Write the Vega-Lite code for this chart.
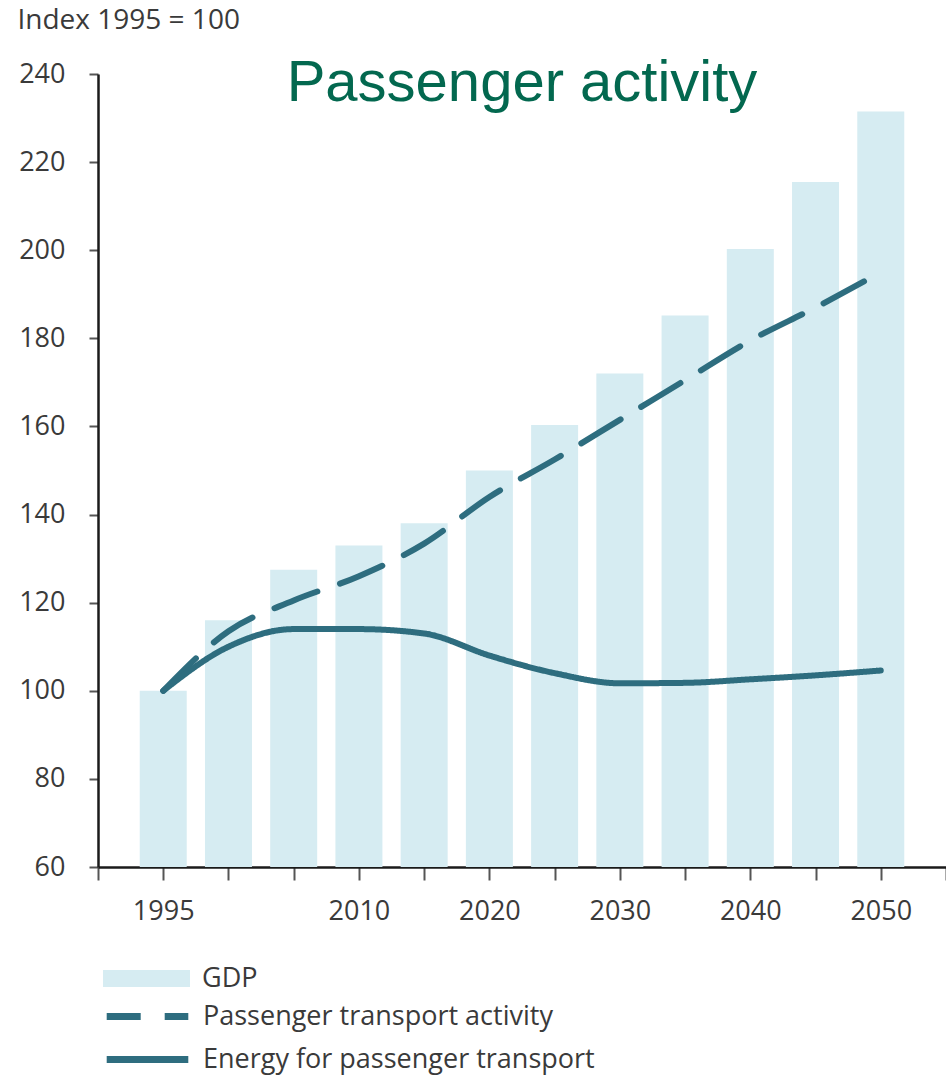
{
  "$schema": "https://vega.github.io/schema/vega-lite/v6.json",
  "width": 848,
  "height": 793,
  "autosize": "none",
  "padding": {"left": 98, "top": 74, "right": 0, "bottom": 208},
  "background": "white",
  "title": {
    "text": "Passenger activity",
    "font": "Liberation Sans",
    "fontSize": 58,
    "fontWeight": "normal",
    "color": "#03684f",
    "anchor": "middle",
    "frame": "group",
    "baseline": "alphabetic",
    "offset": 0,
    "dy": 153
  },
  "config": {
    "view": {"stroke": null},
    "axis": {
      "grid": false,
      "domainColor": "#1a1a1a",
      "domainWidth": 2.5,
      "tickColor": "#555555",
      "tickWidth": 2,
      "labelFont": "Open Sans",
      "labelFontSize": 27,
      "labelColor": "#3a3a3a",
      "titleFont": "Open Sans",
      "titleFontSize": 28,
      "titleFontWeight": "normal",
      "titleColor": "#3a3a3a"
    },
    "legend": {
      "labelFont": "Open Sans",
      "labelFontSize": 27,
      "labelColor": "#3a3a3a",
      "labelLimit": 0,
      "padding": 0,
      "title": null
    }
  },
  "data": {
    "values": [
      {"year": 1995, "series": "GDP", "value": 100},
      {"year": 2000, "series": "GDP", "value": 116},
      {"year": 2005, "series": "GDP", "value": 127.5},
      {"year": 2010, "series": "GDP", "value": 133},
      {"year": 2015, "series": "GDP", "value": 138},
      {"year": 2020, "series": "GDP", "value": 150},
      {"year": 2025, "series": "GDP", "value": 160.3},
      {"year": 2030, "series": "GDP", "value": 172},
      {"year": 2035, "series": "GDP", "value": 185.2},
      {"year": 2040, "series": "GDP", "value": 200.3},
      {"year": 2045, "series": "GDP", "value": 215.5},
      {"year": 2050, "series": "GDP", "value": 231.5},
      {"year": 1995, "series": "Passenger transport activity", "value": 100},
      {"year": 2000, "series": "Passenger transport activity", "value": 113.5},
      {"year": 2005, "series": "Passenger transport activity", "value": 120.5},
      {"year": 2010, "series": "Passenger transport activity", "value": 126},
      {"year": 2015, "series": "Passenger transport activity", "value": 133.4},
      {"year": 2020, "series": "Passenger transport activity", "value": 144},
      {"year": 2025, "series": "Passenger transport activity", "value": 152.5},
      {"year": 2030, "series": "Passenger transport activity", "value": 161.5},
      {"year": 2035, "series": "Passenger transport activity", "value": 170.5},
      {"year": 2040, "series": "Passenger transport activity", "value": 179.5},
      {"year": 2045, "series": "Passenger transport activity", "value": 187},
      {"year": 2050, "series": "Passenger transport activity", "value": 195},
      {"year": 1995, "series": "Energy for passenger transport", "value": 100},
      {"year": 2000, "series": "Energy for passenger transport", "value": 110},
      {"year": 2005, "series": "Energy for passenger transport", "value": 114},
      {"year": 2010, "series": "Energy for passenger transport", "value": 114},
      {"year": 2015, "series": "Energy for passenger transport", "value": 113},
      {"year": 2020, "series": "Energy for passenger transport", "value": 108},
      {"year": 2025, "series": "Energy for passenger transport", "value": 104},
      {"year": 2030, "series": "Energy for passenger transport", "value": 101.7},
      {"year": 2035, "series": "Energy for passenger transport", "value": 101.8},
      {"year": 2040, "series": "Energy for passenger transport", "value": 102.6},
      {"year": 2045, "series": "Energy for passenger transport", "value": 103.5},
      {"year": 2050, "series": "Energy for passenger transport", "value": 104.6}
    ]
  },
  "encoding": {
    "x": {
      "field": "year",
      "type": "quantitative",
      "scale": {"domain": [1990, 2055], "nice": false, "zero": false, "padding": 0},
      "axis": {
        "title": null,
        "values": [1990, 1995, 2000, 2005, 2010, 2015, 2020, 2025, 2030, 2035, 2040, 2045, 2050, 2055],
        "labelExpr": "indexof([1995, 2010, 2020, 2030, 2040, 2050], datum.value) >= 0 ? format(datum.value, 'd') : ''",
        "tickSize": 13,
        "labelPadding": 18,
        "labelFlush": false,
        "labelOverlap": false
      }
    },
    "y": {
      "field": "value",
      "type": "quantitative",
      "scale": {"domain": [60, 240], "nice": false, "zero": false},
      "axis": {
        "title": "Index 1995 = 100",
        "titleAngle": 0,
        "titleAlign": "left",
        "titleBaseline": "middle",
        "titleX": -81,
        "titleY": -54,
        "values": [60, 80, 100, 120, 140, 160, 180, 200, 220, 240],
        "tickSize": 9,
        "labelPadding": 24
      }
    }
  },
  "layer": [
    {
      "transform": [{"filter": "datum.series == 'GDP'"}],
      "mark": {"type": "bar", "width": 47},
      "encoding": {
        "y2": {"datum": 60},
        "color": {
          "field": "series",
          "type": "nominal",
          "scale": {"domain": ["GDP"], "range": ["#d6ecf2"]},
          "legend": {
            "orient": "none",
            "legendX": 35,
            "legendY": 891,
            "symbolType": "M-3.625,-0.71H3.625V0.71H-3.625Z",
            "symbolSize": 576,
            "symbolStrokeWidth": 0,
            "symbolOpacity": 1,
            "labelOffset": 42
          }
        }
      }
    },
    {
      "transform": [{"filter": "datum.series != 'GDP'"}],
      "mark": {"type": "line", "color": "#2e6d7f", "strokeWidth": 6, "strokeCap": "round", "interpolate": "monotone"},
      "encoding": {
        "strokeDash": {
          "field": "series",
          "type": "nominal",
          "scale": {
            "domain": ["Passenger transport activity", "Energy for passenger transport"],
            "range": [[46, 24], [1, 0]]
          },
          "legend": {
            "orient": "none",
            "legendX": 34,
            "legendY": 927,
            "symbolType": "M-3.4,0H3.4",
            "symbolSize": 576,
            "symbolStrokeColor": "#2e6d7f",
            "symbolStrokeWidth": 7,
            "symbolDashOffset": 12,
            "labelOffset": 40,
            "rowPadding": 13
          }
        }
      }
    }
  ]
}
